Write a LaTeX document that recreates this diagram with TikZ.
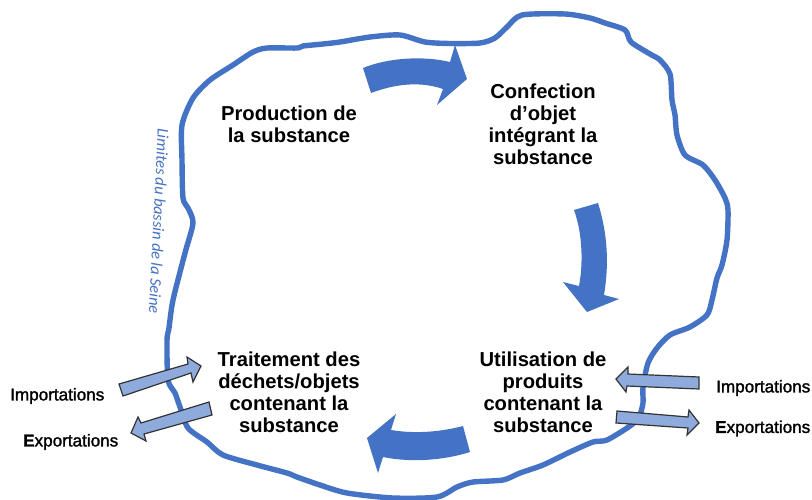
\documentclass[tikz,border=0pt]{standalone}
\usepackage{fontspec}
\setmainfont{Liberation Sans}
\newfontfamily\lblfont{Liberation Sans}[FakeBold=1.6]
\newfontfamily\limfont{Carlito}
\definecolor{bassin}{HTML}{4472C4}
\definecolor{flux}{HTML}{8FAADC}
\tikzset{
  stage/.style={align=center,inner sep=0pt,font=\fontsize{20.2}{22}\selectfont\bfseries,text=black},
  trade/.style={inner sep=0pt,font=\fontsize{17.1}{18}\selectfont\lblfont,text=black},
  limit/.style={draw=bassin,line width=5.4pt,line join=round},
  cyclearrow/.style={fill=bassin,draw=none},
  tradearrow/.style={fill=flux,draw=black!80,line width=1.2pt,line join=miter}
}
\newcommand{\bigE}{{\fontsize{17.1}{18}\selectfont\bfseries E}}
\begin{document}
\begin{tikzpicture}[x=1pt,y=-1pt]
\path[use as bounding box,fill=white] (0,0) rectangle (812,499);
% Basin limit
\draw[limit] plot[smooth cycle,tension=0.45] coordinates {
(340,42)(370,37)(400,35)(425,42)(450,43.5)(480,43)(495,38)(507,27)(522,15)(565,14)(590,18)(605,23)(625,30)
(631,42)(650,54)(660,60)(670,74)(672,100)(675,115)(677,135)(685,155)(703,165)(715,180)(725,198)(728,210)(727,240)(722,265)(717,278)(712,300)(707,315)(690,327)
(670,335)(657,348)(648,363)(643,387)(643,403)(639,417)(630,426)(607,440)(593,442)(570,452)(543,465)(520,473)(503,480)(473,482)(457,487)(437,497)(393,498)(347,493)(320,485)(297,477)(287,473)(257,465)(223,455)(207,442)(188,428)(180,407)(175,393)(168,380)(167,340)(169,328)(173,300)(185,253)(193,223)(188,208)(183,198)(182,160)(182,125)(193,98)(210,80)(233,65)(253,52)(267,48)(297,48)(303,46)(323,44)};
% Cycle arrows
\fill[cyclearrow] (363,68) .. controls (390,57) and (425,56) .. (450,62) -- (455,45) -- (467,79) -- (437,105) -- (443,89) .. controls (420,81) and (395,84) .. (371,93) -- cycle;
\fill[cyclearrow] (574,210) .. controls (583,235) and (583,265) .. (579,286) -- (563,282) -- (587,312) -- (619,299) -- (604,295) .. controls (609,265) and (608,235) .. (598,203) -- cycle;
\fill[cyclearrow] (463,426) .. controls (440,432) and (415,434) .. (391,430) -- (396,414) -- (367,438) -- (378,473) -- (383,457) .. controls (412,463) and (445,460) .. (470,452) -- cycle;
% Trade arrows
\draw[tradearrow] (119,384) -- (188,364) -- (187,357) -- (201,366) -- (193,382) -- (191,373) -- (123,396) -- cycle;
\draw[tradearrow] (209,402) -- (141,423) -- (138,417) -- (131,433) -- (146,441) -- (144,434) -- (212,415) -- cycle;
\draw[tradearrow] (699,377) -- (628,374) -- (628,367) -- (616,379) -- (626,392) -- (627,386) -- (699,389) -- cycle;
\draw[tradearrow] (617,411) -- (688,417) -- (689,410) -- (699,423) -- (687,435) -- (688,428) -- (616,423) -- cycle;
% Stages
\node[stage] (prod) at (289,124) {Production de\\la substance};
\node[stage] (conf) at (543,124) {Confection\\d’objet\\intégrant la\\substance};
\node[stage] (util) at (543,392) {Utilisation de\\produits\\contenant la\\substance};
\node[stage] (trait) at (289,392) {Traitement des\\déchets/objets\\contenant la\\substance};
% Trade labels
\node[trade,anchor=west] (impl) at (10,396) {Importations};
\node[trade,anchor=west] (expl) at (23,442) {\bigE xportations};
\node[trade,anchor=west] (impr) at (716,388) {Importations};
\node[trade,anchor=west] (expr) at (715,428.5) {\bigE xportations};
% Basin label
\node[inner sep=0pt,rotate=-92.8,text=bassin,font=\fontsize{16.2}{18}\selectfont\limfont\itshape] (lim) at (159,221) {Limites du bassin de la Seine};
\end{tikzpicture}
\end{document}
